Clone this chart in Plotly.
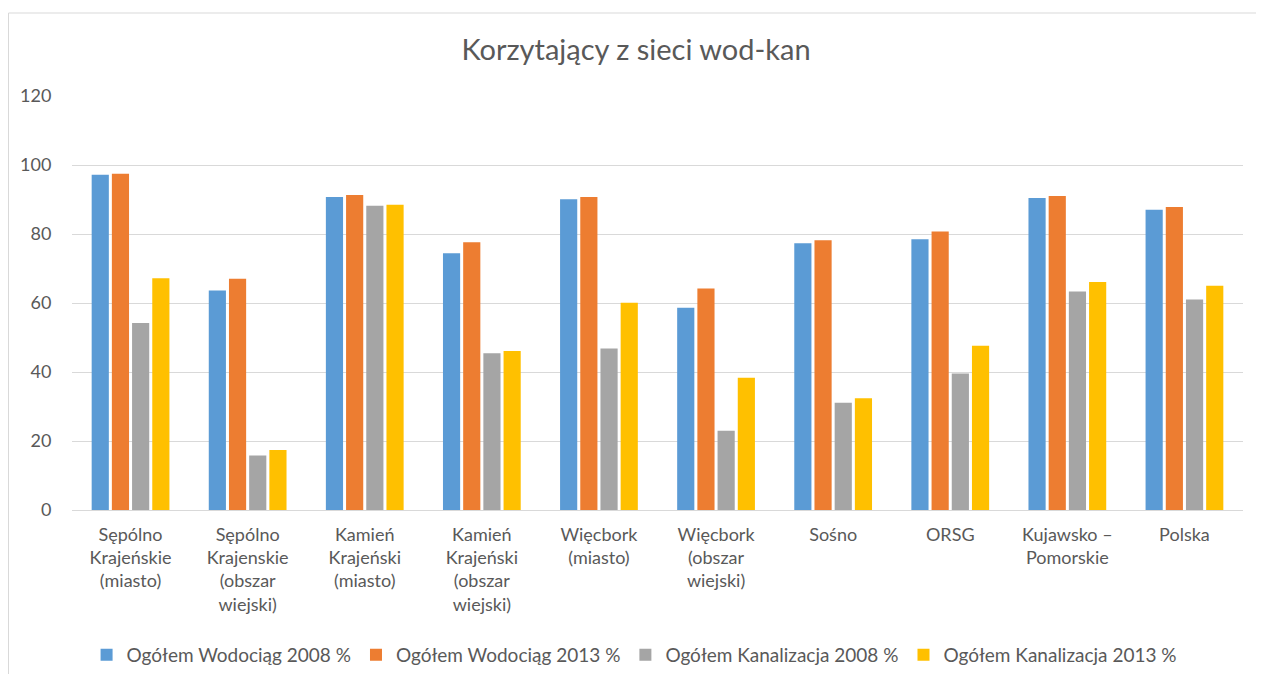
import plotly.graph_objects as go

categories = [
    "Sępólno<br>Krajeńskie<br>(miasto)",
    "Sępólno<br>Krajenskie<br>(obszar<br>wiejski)",
    "Kamień<br>Krajeński<br>(miasto)",
    "Kamień<br>Krajeński<br>(obszar<br>wiejski)",
    "Więcbork<br>(miasto)",
    "Więcbork<br>(obszar<br>wiejski)",
    "Sośno",
    "ORSG",
    "Kujawsko –<br>Pomorskie",
    "Polska",
]
wod_2008 = [97.2, 63.6, 90.7, 74.4, 90.1, 58.6, 77.3, 78.5, 90.4, 87.0]
wod_2013 = [97.5, 67.0, 91.3, 77.6, 90.7, 64.2, 78.2, 80.7, 91.0, 87.8]
kan_2008 = [54.2, 15.8, 88.2, 45.4, 46.8, 23.0, 31.1, 39.6, 63.3, 61.0]
kan_2013 = [67.2, 17.4, 88.5, 46.1, 60.1, 38.3, 32.4, 47.6, 66.1, 65.0]
series_names = [
    "Ogółem Wodociąg 2008 %",
    "Ogółem Wodociąg 2013 %",
    "Ogółem Kanalizacja 2008 %",
    "Ogółem Kanalizacja 2013 %",
]
colors = ["#5B9BD5", "#ED7D31", "#A5A5A5", "#FFC000"]
y_ticks = [0, 20, 40, 60, 80, 100, 120]

FONT = "Lato, Open Sans, sans-serif"
TXT = "#595959"

fig = go.Figure()
for name, vals, col in zip(series_names, [wod_2008, wod_2013, kan_2008, kan_2013], colors):
    fig.add_trace(go.Bar(name=name, x=categories, y=vals, marker_color=col,
                         marker_line_width=0))

# page body has an 8px margin, so figure coordinates = screen - 8
W, H = 1256, 666
L, R, T, B = 64, 21, 88, 164
pw, ph = W - L - R, H - T - B

def px(x):
    return (x - L) / pw

def py(y):
    return (H - B - y) / ph

fig.update_layout(
    width=W, height=H,
    margin=dict(l=L, r=R, t=T, b=B, autoexpand=False),
    paper_bgcolor="white", plot_bgcolor="white",
    barmode="group", bargap=0.31, bargroupgap=0.15,
    font=dict(family=FONT, color=TXT, size=18),
    title=dict(text="Korzytający z sieci wod-kan", x=0.5, xanchor="center",
               y=1 - 42 / H, yanchor="middle",
               font=dict(size=29, color=TXT, family=FONT)),
    xaxis=dict(showgrid=False, ticks="", tickfont=dict(size=18, color=TXT),
               showline=True, linecolor="#D9D9D9", linewidth=1,
               ticklabelstandoff=8, automargin=False),
    yaxis=dict(range=[0, 120], tickvals=y_ticks, showgrid=True,
               gridcolor="#D9D9D9", gridwidth=1, zeroline=False,
               tickfont=dict(size=18, color=TXT), ticks="outside", ticklen=16,
               tickcolor="rgba(0,0,0,0)", automargin=False),
    legend=dict(orientation="h", x=0.48, xanchor="center",
                yref="container", y=1 - 647 / H, yanchor="middle",
                font=dict(size=19, color=TXT), traceorder="normal",
                itemwidth=30),
    showlegend=True,
    shapes=[dict(type="rect", xref="paper", yref="paper",
                 x0=px(0.5), x1=px(1254), y0=py(672), y1=py(5),
                 line=dict(color="#D9D9D9", width=1), fillcolor="rgba(0,0,0,0)",
                 layer="below")],
)

fig.write_html("out.html")
